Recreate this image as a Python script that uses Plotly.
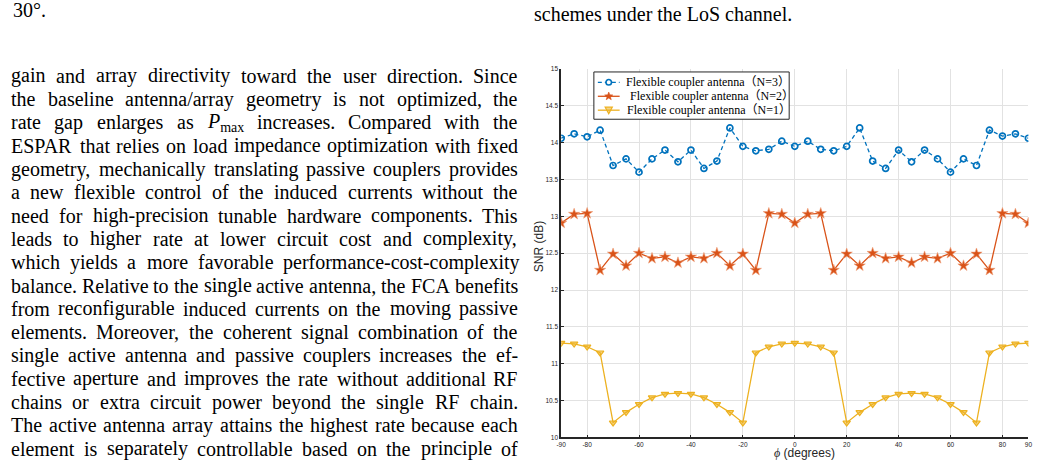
import plotly.graph_objects as go
import math

W, H = 1043, 465

# ---------------- data ----------------
phi_deg = [-90, -85, -80, -75, -70, -65, -60, -55, -50, -45, -40, -35, -30, -25, -20, -15, -10, -5,
           0, 5, 10, 15, 20, 25, 30, 35, 40, 45, 50, 55, 60, 65, 70, 75, 80, 85, 90]

snr_n3 = [14.06, 14.12, 14.08, 14.17, 13.69, 13.78, 13.60, 13.78, 13.90, 13.74, 13.90, 13.65, 13.75,
          14.20, 13.95, 13.89, 13.91, 14.02, 13.95, 14.02, 13.91, 13.89, 13.95, 14.20, 13.75, 13.65,
          13.90, 13.74, 13.90, 13.78, 13.60, 13.78, 13.69, 14.17, 14.09, 14.12, 14.06]

snr_n2 = [12.91, 13.03, 13.04, 12.27, 12.49, 12.33, 12.50, 12.43, 12.45, 12.37, 12.45, 12.43, 12.50,
          12.33, 12.49, 12.27, 13.04, 13.03, 12.91, 13.03, 13.04, 12.27, 12.49, 12.33, 12.50, 12.43,
          12.45, 12.37, 12.45, 12.43, 12.50, 12.33, 12.49, 12.27, 13.04, 13.03, 12.91]

snr_n1 = [11.28, 11.27, 11.23, 11.15, 10.20, 10.34, 10.45, 10.54, 10.59, 10.60, 10.59, 10.54, 10.45,
          10.34, 10.20, 11.15, 11.23, 11.27, 11.28, 11.27, 11.23, 11.15, 10.20, 10.34, 10.45, 10.54,
          10.59, 10.60, 10.59, 10.54, 10.45, 10.34, 10.20, 11.15, 11.23, 11.27, 11.28]

series_names = ["Flexible coupler antenna（N=3）",
                "Flexible coupler antenna（N=2）",
                "Flexible coupler antenna（N=1）"]

x_tickvals = [-90, -80, -60, -40, -20, 0, 20, 40, 60, 80, 90]
x_ticktext = ["-90", "-80", "-60", "-40", "-20", "0", "20", "40", "60", "80", "90"]
y_tickvals = [10, 10.5, 11, 11.5, 12, 12.5, 13, 13.5, 14, 14.5, 15]
y_ticktext = ["10", "10.5", "11", "11.5", "12", "12.5", "13", "13.5", "14", "14.5", "15"]

body_lines = [
    "gain and array directivity toward the user direction. Since",
    "the baseline antenna/array geometry is not optimized, the",
    "rate gap enlarges as PMAX increases. Compared with the",
    "ESPAR that relies on load impedance optimization with fixed",
    "geometry, mechanically translating passive couplers provides",
    "a new flexible control of the induced currents without the",
    "need for high-precision tunable hardware components. This",
    "leads to higher rate at lower circuit cost and complexity,",
    "which yields a more favorable performance-cost-complexity",
    "balance. Relative to the single active antenna, the FCA benefits",
    "from reconfigurable induced currents on the moving passive",
    "elements. Moreover, the coherent signal combination of the",
    "single active antenna and passive couplers increases the ef-",
    "fective aperture and improves the rate without additional RF",
    "chains or extra circuit power beyond the single RF chain.",
    "The active antenna array attains the highest rate because each",
    "element is separately controllable based on the principle of",
]

# ---------------- styling ----------------
C_BLUE = "#0072BD"
C_ORANGE = "#D95319"
C_YELLOW = "#EDB120"
AX = "#262626"
GRID = "#e2e2e2"
SERIF = "Liberation Serif, Times New Roman, Noto Sans CJK SC, serif"
SANS = "Liberation Sans, Arial, sans-serif"

fig = go.Figure()
fig.add_trace(go.Scatter(
    x=phi_deg, y=snr_n3, mode="lines+markers", name=series_names[0], showlegend=False,
    line=dict(color=C_BLUE, width=1.3, dash="4px,3px"),
    marker=dict(symbol="circle-open", size=6, color=C_BLUE, line=dict(width=1.7, color=C_BLUE))))
fig.add_trace(go.Scatter(
    x=phi_deg, y=snr_n2, mode="lines+markers", name=series_names[1], showlegend=False,
    line=dict(color=C_ORANGE, width=1.3),
    marker=dict(symbol="star", size=8.5, color=C_ORANGE, line=dict(width=0.6, color="#f0a27e"))))
fig.add_trace(go.Scatter(
    x=phi_deg, y=snr_n1, mode="lines+markers", name=series_names[2], showlegend=False,
    line=dict(color=C_YELLOW, width=1.3),
    marker=dict(symbol="triangle-down", size=6.5, color="rgba(237,177,32,0.55)",
                line=dict(width=1.2, color=C_YELLOW))))

fig.update_layout(
    width=W, height=H, margin=dict(l=0, r=0, t=0, b=0),
    paper_bgcolor="white", plot_bgcolor="white",
    xaxis=dict(domain=[561 / W, 1032.3 / W], range=[-90, 90], tickvals=x_tickvals, ticktext=x_ticktext,
               showgrid=True, gridcolor=GRID, gridwidth=1, zeroline=False,
               showline=True, linecolor=AX, linewidth=1.6, ticks="inside", ticklen=3, tickcolor=AX,
               tickfont=dict(family=SANS, size=6.5, color=AX)),
    yaxis=dict(domain=[1 - 440 / H, 1 - 66 / H], range=[10, 15], tickvals=y_tickvals, ticktext=y_ticktext,
               showgrid=True, gridcolor=GRID, gridwidth=1, zeroline=False,
               showline=True, linecolor=AX, linewidth=1.6, ticks="inside", ticklen=3, tickcolor=AX,
               tickfont=dict(family=SANS, size=6.5, color=AX)),
)


def px(x):
    return x / W


def py(y):
    return 1 - y / H


annotations = []
shapes = []

# axis titles
annotations.append(dict(text="SNR (dB)", x=px(538.5), y=py(246), xref="paper", yref="paper",
                        textangle=-90, showarrow=False, xanchor="center", yanchor="middle",
                        font=dict(family=SANS, size=12, color=AX), borderpad=0))
annotations.append(dict(text='<span style="font-family:Liberation Serif"><i>ϕ</i></span> (degrees)',
                        x=px(806), y=py(455.5), xref="paper", yref="paper", showarrow=False,
                        xanchor="center", yanchor="middle", font=dict(family=SANS, size=12, color=AX),
                        borderpad=0))

# ---------------- compact legend (drawn as layout decorations) ----------------
shapes.append(dict(type="rect", xref="paper", yref="paper", x0=px(594), x1=px(791), y0=py(117), y1=py(69),
                   line=dict(color=AX, width=1), fillcolor="white", layer="above"))
rows_y = [79.5, 93.7, 107.8]
text_x = [625, 629, 626]
leg_colors = [C_BLUE, C_ORANGE, C_YELLOW]
for i, (ry, col) in enumerate(zip(rows_y, leg_colors)):
    shapes.append(dict(type="line", xref="paper", yref="paper", x0=px(598), x1=px(620), y0=py(ry), y1=py(ry),
                       line=dict(color=col, width=1.3, dash="4px,3px" if i == 0 else "solid"), layer="above"))
    annotations.append(dict(text=series_names[i], x=px(text_x[i]), y=py(ry), xref="paper", yref="paper",
                            showarrow=False, xanchor="left", yanchor="middle", borderpad=0,
                            font=dict(family=SERIF, size=12, color="black")))
cx = 609
shapes.append(dict(type="circle", xref="paper", yref="paper", x0=px(cx - 2.8), x1=px(cx + 2.8),
                   y0=py(rows_y[0] + 2.8), y1=py(rows_y[0] - 2.8),
                   line=dict(color=C_BLUE, width=1.6), fillcolor="white", layer="above"))
pts = []
for k in range(10):
    r = 4.3 if k % 2 == 0 else 1.8
    a = -math.pi / 2 + k * math.pi / 5
    pts.append((cx + r * math.cos(a), rows_y[1] + r * math.sin(a)))
path = "M " + " L ".join(f"{px(a):.5f},{py(b):.5f}" for a, b in pts) + " Z"
shapes.append(dict(type="path", xref="paper", yref="paper", path=path, fillcolor=C_ORANGE,
                   line=dict(color=C_ORANGE, width=0.6), layer="above"))
ty = rows_y[2]
tri = [(cx - 3.6, ty - 3.0), (cx + 3.6, ty - 3.0), (cx, ty + 3.6)]
path = "M " + " L ".join(f"{px(a):.5f},{py(b):.5f}" for a, b in tri) + " Z"
shapes.append(dict(type="path", xref="paper", yref="paper", path=path, fillcolor="rgba(237,177,32,0.55)",
                   line=dict(color=C_YELLOW, width=1.2), layer="above"))

# ---------------- page text (justified word by word) ----------------
TW = {' ': 250, '!': 333, '(': 333, ')': 333, ',': 250, '-': 333, '.': 250, '/': 278, ':': 278, ';': 278,
      '°': 400, 'A': 722, 'B': 667, 'C': 667, 'D': 722, 'E': 611, 'F': 556, 'G': 722, 'H': 722, 'I': 333,
      'J': 389, 'K': 722, 'L': 611, 'M': 889, 'N': 722, 'O': 722, 'P': 556, 'Q': 722, 'R': 667, 'S': 556,
      'T': 611, 'U': 722, 'V': 722, 'W': 944, 'X': 722, 'Y': 722, 'Z': 611,
      'a': 444, 'b': 500, 'c': 444, 'd': 500, 'e': 444, 'f': 333, 'g': 500, 'h': 500, 'i': 278, 'j': 278,
      'k': 500, 'l': 278, 'm': 778, 'n': 500, 'o': 500, 'p': 500, 'q': 500, 'r': 333, 's': 389, 't': 278,
      'u': 500, 'v': 500, 'w': 722, 'x': 500, 'y': 500, 'z': 444}
FS = 20.0
LEFT, RIGHT = 6.0, 517.0


def wwidth(word):
    if word == "PMAX":
        return (611 + 0.7 * (778 + 444 + 500)) / 1000 * FS
    return sum(TW.get(c, 500) for c in word) / 1000 * FS


for i, line in enumerate(body_lines):
    words = line.split(" ")
    widths = [wwidth(w) for w in words]
    gap = (RIGHT - LEFT - sum(widths)) / (len(words) - 1)
    x = LEFT
    yc = 73.0 + 23.65 * i
    for w, wd in zip(words, widths):
        txt = "<i>P</i><sub>max</sub>" if w == "PMAX" else w
        annotations.append(dict(text=txt, x=px(x), y=py(yc), xref="paper", yref="paper", showarrow=False,
                                xanchor="left", yanchor="middle", borderpad=0, borderwidth=0,
                                font=dict(family=SERIF, size=FS, color="black")))
        x += wd + gap

annotations.append(dict(text="30°.", x=px(7), y=py(6.0), xref="paper", yref="paper", showarrow=False,
                        xanchor="left", yanchor="middle", borderpad=0,
                        font=dict(family=SERIF, size=FS, color="black")))
annotations.append(dict(text="schemes under the LoS channel.", x=px(533), y=py(10.0), xref="paper", yref="paper",
                        showarrow=False, xanchor="left", yanchor="middle", borderpad=0,
                        font=dict(family=SERIF, size=FS, color="black")))

fig.update_layout(annotations=annotations, shapes=shapes)
fig.write_html("out.html")
